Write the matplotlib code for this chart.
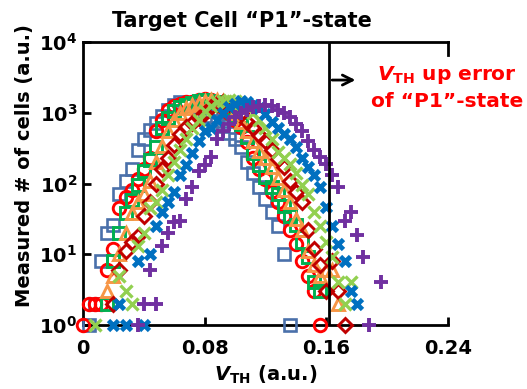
import numpy as np
import matplotlib
matplotlib.use("Agg")
import matplotlib.pyplot as plt

plt.rcParams['font.family'] = ['DejaVu Sans']
plt.rcParams['font.weight'] = 'bold'
plt.rcParams['mathtext.default'] = 'bf'

# ---- data: V_TH bins (a.u.) and cell counts per series ----
vth = [0.000, 0.004, 0.008, 0.012, 0.016, 0.020, 0.024, 0.028, 0.032, 0.036,
       0.040, 0.044, 0.048, 0.052, 0.056, 0.060, 0.064, 0.068, 0.072, 0.076,
       0.080, 0.084, 0.088, 0.092, 0.096, 0.100, 0.104, 0.108, 0.112, 0.116,
       0.120, 0.124, 0.128, 0.132, 0.136, 0.140, 0.144, 0.148, 0.152, 0.156,
       0.160, 0.164, 0.168, 0.172, 0.176, 0.180, 0.184, 0.188, 0.192, 0.196]

cnt_sq_blue = [0, 1, 2, 8, 20, 26, 70, 110, 160, 300,
               420, 570, 720, 900, 1100, 1300, 1400, 1380, 1300, 1200,
               1050, 900, 760, 640, 520, 420, 330, 200, 140, 90,
               60, 40, 25, 10, 1, 0, 0, 0, 0, 0,
               0, 0, 0, 0, 0, 0, 0, 0, 0, 0]
cnt_circle_red = [1, 2, 2, 2, 6, 12, 45, 65, 80, 115,
                  160, 230, 550, 800, 1100, 1250, 1350, 1400, 1420, 1500,
                  1550, 1500, 1380, 1200, 1000, 800, 620, 380, 230, 160,
                  115, 75, 55, 35, 22, 14, 8, 5, 3, 1,
                  0, 0, 0, 0, 0, 0, 0, 0, 0, 0]
cnt_sq_green = [0, 0, 0, 0, 2, 8, 20, 38, 58, 95,
                150, 215, 330, 600, 850, 1050, 1200, 1300, 1380, 1450,
                1500, 1480, 1420, 1300, 1120, 900, 700, 450, 270, 180,
                125, 90, 70, 48, 35, 26, 15, 9, 4, 3,
                0, 0, 0, 0, 0, 0, 0, 0, 0, 0]
cnt_tri_orange = [0, 0, 0, 0, 3, 5, 10, 20, 38, 55,
                  70, 110, 200, 340, 550, 780, 1000, 1150, 1280, 1380,
                  1450, 1500, 1520, 1450, 1300, 1000, 750, 560, 400, 290,
                  230, 170, 120, 80, 55, 32, 22, 11, 7, 5,
                  6, 6, 2, 0, 0, 0, 0, 0, 0, 0]
cnt_dia_darkred = [0, 0, 0, 0, 0, 2, 6, 11, 15, 18,
                   35, 55, 100, 160, 230, 350, 500, 620, 710, 850,
                   1000, 1200, 1350, 1400, 1350, 1200, 1000, 750, 600, 480,
                   400, 300, 220, 170, 110, 75, 55, 22, 12, 7,
                   3, 8, 3, 1, 0, 0, 0, 0, 0, 0]
cnt_x_lightgreen = [0, 0, 1, 0, 0, 0, 5, 3, 2, 13,
                    20, 45, 55, 80, 130, 200, 300, 430, 600, 800,
                    1050, 1250, 1400, 1480, 1500, 1450, 1350, 1200, 1000, 800,
                    600, 420, 280, 230, 190, 140, 95, 70, 40, 25,
                    15, 9, 4, 2, 4, 0, 0, 0, 0, 0]
cnt_x_blue = [0, 0, 0, 0, 0, 1, 2, 1, 0, 8,
              1, 10, 25, 40, 55, 75, 130, 180, 270, 400,
              550, 600, 800, 1000, 1200, 1350, 1450, 1420, 1300, 1150,
              950, 750, 600, 500, 420, 330, 230, 170, 130, 90,
              47, 25, 14, 8, 3, 2, 0, 0, 0, 0]
cnt_plus_purple = [0, 0, 0, 0, 0, 0, 0, 0, 0, 1,
                   2, 6, 2, 13, 20, 29, 30, 60, 90, 150,
                   180, 240, 420, 560, 700, 870, 980, 1080, 1200, 1250,
                   1300, 1250, 1100, 1000, 870, 700, 560, 400, 300, 240,
                   190, 130, 90, 30, 40, 19, 9, 1, 0, 4]

xticks = [0, 0.08, 0.16, 0.24]
xtick_labels = ['0', '0.08', '0.16', '0.24']
yticks = [1, 10, 100, 1000, 10000]
ytick_labels = [r'$10^{0}$', r'$10^{1}$', r'$10^{2}$', r'$10^{3}$', r'$10^{4}$']
error_edge = 0.162   # boundary of "P1"-state
arrow_level = 2900

series = [
    (cnt_sq_blue, 's', '#4a70aa', 8.5, 1.9),
    (cnt_circle_red, 'o', '#ff0000', 9, 2.1),
    (cnt_sq_green, 's', '#00b050', 8.5, 2.1),
    (cnt_tri_orange, '^', '#f79646', 9, 2.1),
    (cnt_dia_darkred, 'D', '#c00000', 7, 2.1),
    (cnt_x_lightgreen, 'x', '#92d050', 9, 2.4),
    (cnt_x_blue, 'x', '#0070c0', 7.5, 3.4),
    (cnt_plus_purple, '+', '#7030a0', 9.5, 2.8),
]

fig = plt.figure(figsize=(5.27, 3.89), dpi=100)
ax = fig.add_axes([0.1575, 0.1645, 0.6925, 0.7275])

x_arr = np.array(vth)
for cnt, mk, col, ms, mew in series:
    c = np.array(cnt, dtype=float)
    keep = c > 0
    filled = 'none' if mk in ('s', 'o', '^', 'D') else col
    ax.plot(x_arr[keep], c[keep], linestyle='none', marker=mk, markersize=ms,
            markerfacecolor=filled, markeredgecolor=col, markeredgewidth=mew,
            clip_on=False, zorder=3)

ax.set_yscale('log')
ax.set_xlim(0, 0.24)
ax.set_ylim(1, 10000)
ax.set_xticks(xticks)
ax.set_xticklabels(xtick_labels)
ax.set_yticks(yticks)
ax.set_yticklabels(ytick_labels)
ax.minorticks_off()
ax.tick_params(axis='both', direction='in', length=6, width=2, labelsize=14)
ax.tick_params(axis='x', pad=10)
ax.tick_params(axis='y', pad=4)

for side in ['left', 'bottom', 'top']:
    ax.spines[side].set_linewidth(2)
ax.spines['right'].set_linewidth(2)
ax.spines['right'].set_bounds(6500, 10000)

# boundary and arrow
ax.axvline(error_edge, color='black', lw=2, zorder=4)
ax.annotate('', xy=(0.181, arrow_level), xytext=(error_edge, arrow_level),
            arrowprops=dict(arrowstyle='->', color='black', lw=2,
                            mutation_scale=18))

fig.text(0.459, 0.945, 'Target Cell \u201cP1\u201d-state', fontsize=15,
         fontweight='bold', ha='center', va='center')
ax.set_xlabel(r'$\mathbfit{V}_{\mathbf{TH}}$ (a.u.)', fontsize=14,
              fontweight='bold', labelpad=4)
ax.set_ylabel('Measured # of cells (a.u.)', fontsize=14, fontweight='bold')
ax.yaxis.set_label_coords(-0.135, 0.565)

fig.text(0.848, 0.775, '$\\mathbfit{V}_{\\mathbf{TH}}$ up error\nof \u201cP1\u201d-state',
         color='#ff0000', fontsize=14.5, fontweight='bold', ha='center', va='center',
         linespacing=1.35)

fig.savefig('out.png', dpi=100)
